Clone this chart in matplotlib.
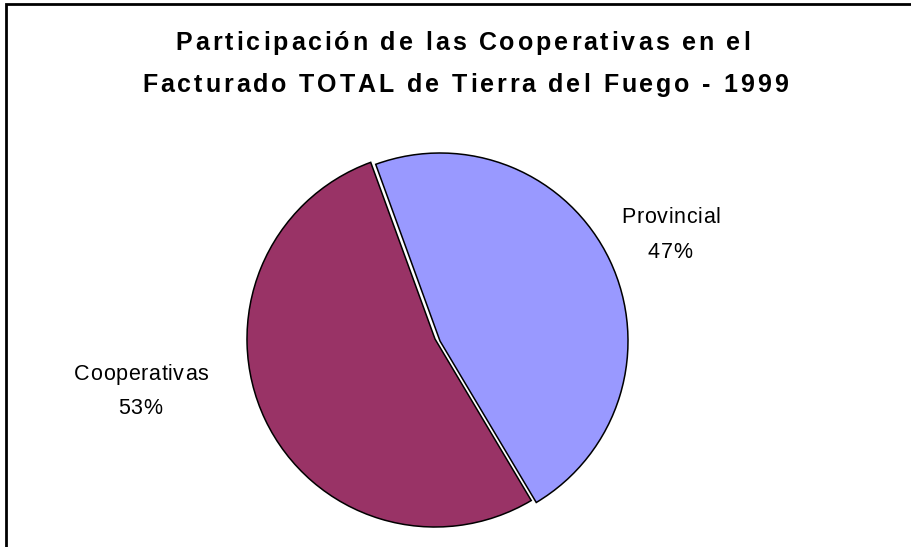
import matplotlib
matplotlib.use("Agg")
import matplotlib.pyplot as plt
from matplotlib.font_manager import FontProperties, findfont, get_font
from matplotlib.patches import Rectangle

# ── data ──────────────────────────────────────────────────────────────────────
labels = ["Provincial", "Cooperativas"]
shares = [47, 53]
colors = ["#9999FF", "#993366"]
title_lines = ["Participación de las Cooperativas en el",
               "Facturado TOTAL de Tierra del Fuego - 1999"]

W, H, DPI = 911, 547, 100
fig = plt.figure(figsize=(W / DPI, H / DPI), dpi=DPI)


def tracked_text(cx, baseline, s, size, weight="normal", track=0.0):
    """Draw s centred at cx (px, from left) with extra letter spacing (px)."""
    fp = FontProperties(family="Liberation Sans", size=size, weight=weight)
    font = get_font(findfont(fp))
    font.set_size(size, DPI)
    adv = [font.load_char(ord(c)).linearHoriAdvance / 65536 for c in s]
    total = sum(adv) + track * (len(s) - 1)
    x = cx - total / 2
    for c, a in zip(s, adv):
        if c != " ":
            fig.text(x / W, 1 - baseline / H, c, fontproperties=fp,
                     ha="left", va="baseline")
        x += a + track


# frame (only left and top edge visible in the reference)
fig.add_artist(Rectangle((6 / W, -0.05), 1.2, 1 - 4 / H + 0.05,
                         transform=fig.transFigure, fill=False,
                         edgecolor="black", linewidth=2))

# title
tracked_text(463, 50, title_lines[0], 18, weight="bold", track=2.9)
tracked_text(465, 92, title_lines[1], 18, weight="bold", track=2.9)

# pie
R = 188
cx, cy = 435, 339
ax = fig.add_axes([(cx - R) / W, 1 - (cy + R) / H, 2 * R / W, 2 * R / H])
wedges, _ = ax.pie(shares, colors=colors, startangle=110, counterclock=False,
                   wedgeprops=dict(edgecolor="black", linewidth=1.1))
# Provincial slice pulled out a little
wedges[0].set_center((5 / R, -2 / R))
ax.set_xlim(-1, 1)
ax.set_ylim(-1, 1)
ax.set_aspect("equal")
ax.axis("off")

# labels
tracked_text(671, 223, labels[0], 15.5, track=0.7)
tracked_text(670, 258, f"{shares[0]}%", 15.5, track=0.6)
tracked_text(141, 380, labels[1], 15.5, track=0.7)
tracked_text(140, 414, f"{shares[1]}%", 15.5, track=0.6)

fig.savefig("out.png", dpi=DPI)
